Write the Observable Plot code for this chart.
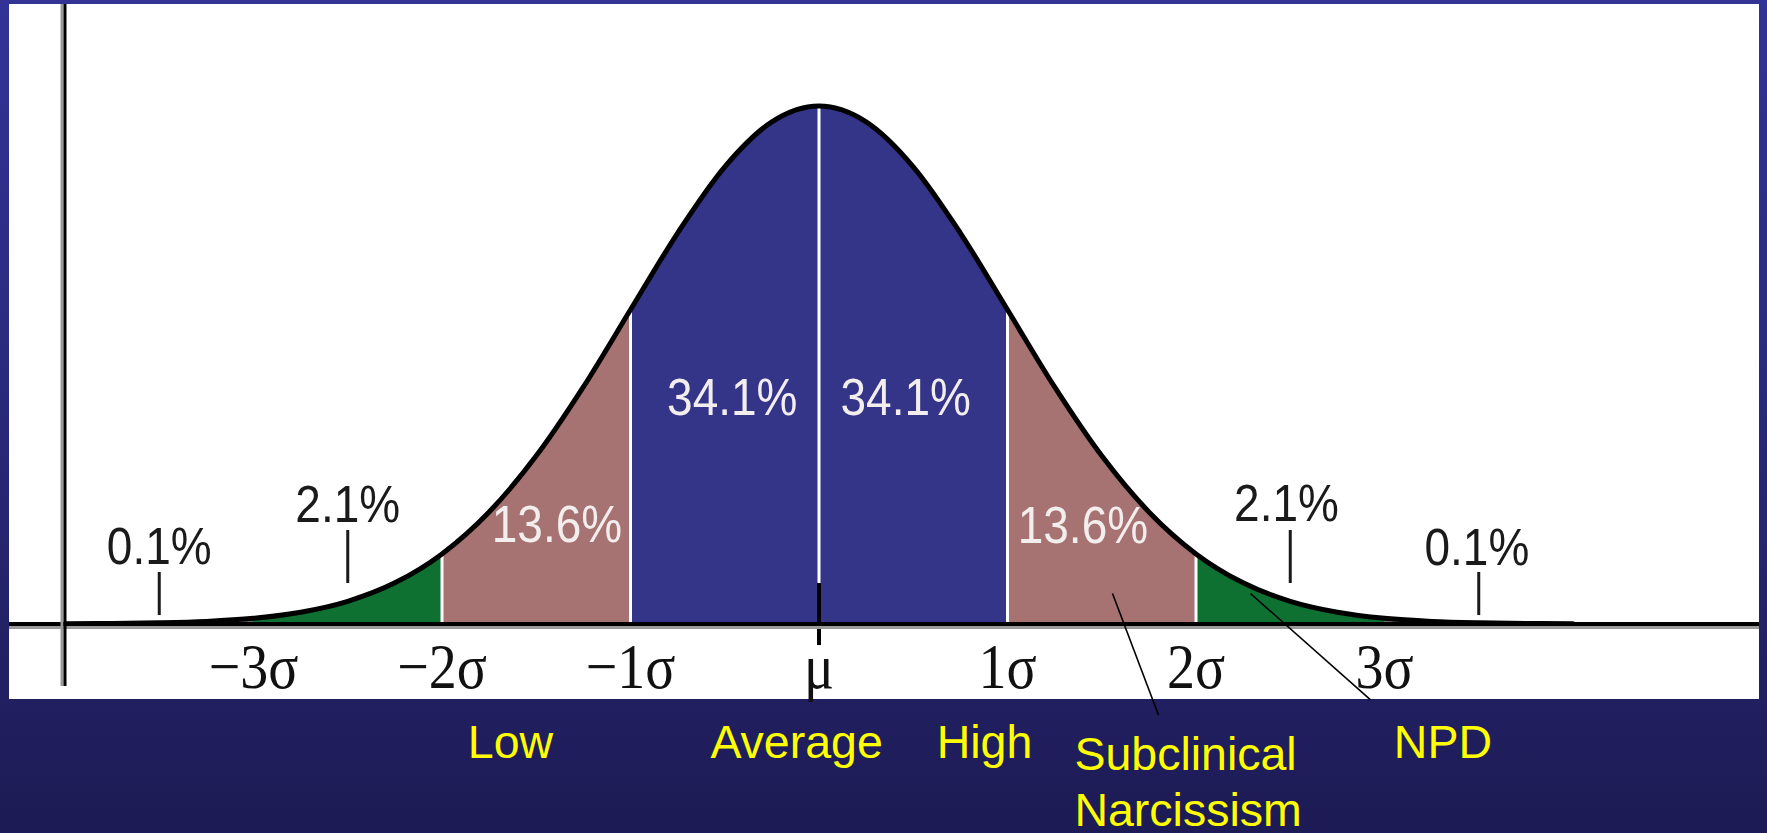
<!DOCTYPE html>
<html>
<head>
<meta charset="utf-8">
<script src="https://cdn.jsdelivr.net/npm/d3@7"></script>
<script src="https://cdn.jsdelivr.net/npm/@observablehq/plot@0.6"></script>
<style>
html, body { margin: 0; padding: 0; }
body {
  width: 1767px; height: 833px; overflow: hidden; position: relative;
  background: linear-gradient(to bottom, #323396 0%, #2b2b80 40%, #1d1b54 100%);
}
#panel { position: absolute; left: 9px; top: 4px; width: 1750px; height: 695px; background: #ffffff; }
#chart { position: absolute; left: 9px; top: 4px; }
</style>
</head>
<body>
<div id="panel"></div>
<div id="chart"></div>
<script>
// ---- Data ----
// Curve: position in standard deviations and curve height (density)
const curveZ = [-4, -3.75, -3.5, -3.25, -3, -2.75, -2.5, -2.25, -2, -1.75, -1.5, -1.25, -1, -0.75, -0.5, -0.25,
                0, 0.25, 0.5, 0.75, 1, 1.25, 1.5, 1.75, 2, 2.25, 2.5, 2.75, 3, 3.25, 3.5, 3.75, 4];
const curveDensity = [0.0001, 0.0004, 0.0009, 0.0020, 0.0044, 0.0091, 0.0175, 0.0317, 0.0540, 0.0863, 0.1295, 0.1826, 0.2420, 0.3011, 0.3521, 0.3867,
                      0.3989, 0.3867, 0.3521, 0.3011, 0.2420, 0.1826, 0.1295, 0.0863, 0.0540, 0.0317, 0.0175, 0.0091, 0.0044, 0.0020, 0.0009, 0.0004, 0.0001];

// Shaded bands between these edges
const bandEdges = [-4, -3, -2, -1, 0, 1, 2, 3, 4];
const bandKinds = ["tail", "outer", "middle", "center", "center", "middle", "outer", "tail"];
const separatorZ = [-2, -1, 0, 1, 2];

// Axis tick labels
const sigmaTicks = [-3, -2, -1, 0, 1, 2, 3];
const sigmaLabels = ["−3σ", "−2σ", "−1σ", "μ", "1σ", "2σ", "3σ"];

// Percentage labels (anchor in sigma units and density of their baseline)
const pctLabels = ["0.1%", "2.1%", "13.6%", "34.1%", "34.1%", "13.6%", "2.1%", "0.1%"];
const pctZ = [-3.5, -2.5, -1.39, -0.46, 0.46, 1.40, 2.48, 3.49];
const pctBaseline = [0.0464, 0.0782, 0.0628, 0.1610, 0.1610, 0.0620, 0.0797, 0.0451];

// Small pointer ticks under the outer percentage labels
const pctTickZ = [-3.5, -2.5, 2.5, 3.5];
const pctTickFrom = [0.0065, 0.0312, 0.0312, 0.0065];
const pctTickTo = [0.0397, 0.0720, 0.0720, 0.0397];

// Mean marker (black tick through the axis)
const meanTickFrom = -0.0166;
const meanTickTo = 0.0312;

// Category labels under the chart
const groupLabels = ["Low", "Average", "High", "NPD"];
const groupZ = [-1.637, -0.119, 0.878, 3.31];
const subclinicalLabel = "Subclinical\nNarcissism";
const subclinicalZ = 1.355;

// Leader lines (from region to label)
const leaderZ1 = [1.557, 2.289];
const leaderD1 = [0.0235, 0.0235];
const leaderZ2 = [1.801, 2.926];
const leaderD2 = [-0.0701, -0.0585];

// ---- Tables built from the arrays ----
const curveRows = curveZ.map((z, i) => ({z, d: curveDensity[i]}));
const bandRows = [];
for (let b = 0; b < bandKinds.length; b++) {
  const lo = bandEdges[b], hi = bandEdges[b + 1];
  curveRows.filter(r => r.z >= lo - 1e-9 && r.z <= hi + 1e-9)
    .forEach(r => bandRows.push({band: b, kind: bandKinds[b], z: r.z, d: r.d}));
}
const densityAt = z => curveDensity[curveZ.findIndex(v => Math.abs(v - z) < 1e-9)];
const separatorRows = separatorZ.map(z => ({z, top: densityAt(z)}));
const sigmaRows = sigmaTicks.map((z, i) => ({z, label: sigmaLabels[i], base: 0}));
const pctRows = pctLabels.map((label, i) => ({label, z: pctZ[i], d: pctBaseline[i]}));
const pctInner = pctRows.filter(r => Math.abs(r.z) < 2);
const pctOuter = pctRows.filter(r => Math.abs(r.z) >= 2);
const pctTickRows = pctTickZ.map((z, i) => ({z, y1: pctTickFrom[i], y2: pctTickTo[i]}));
const groupRows = groupLabels.map((label, i) => ({label, z: groupZ[i], base: 0}));
const leaderRows = leaderZ1.map((z1, i) => ({x1: z1, y1: leaderD1[i], x2: leaderZ2[i], y2: leaderD2[i]}));

const sans = "'Liberation Sans', Arial, Helvetica, sans-serif";
const serif = "'Liberation Serif', 'Times New Roman', Times, serif";

const chart = Plot.plot({
  width: 1750,
  height: 829,
  marginTop: 0, marginLeft: 0, marginRight: 0, marginBottom: 147,
  style: {background: "transparent", overflow: "visible", maxWidth: "none"},
  x: {domain: [-4, 4], range: [55.5, 1563.5], axis: null},
  y: {domain: [0, 0.39894], range: [619.5, 101.5], axis: null},
  color: {domain: ["tail", "outer", "middle", "center"], range: ["#6e6e6e", "#0e7131", "#a67372", "#343489"]},
  marks: [
    Plot.areaY(bandRows, {x: "z", y1: 0, y2: "d", z: "band", fill: "kind", curve: "monotone-x"}),
    Plot.ruleX(separatorRows, {x: "z", y1: 0, y2: "top", stroke: "white", strokeWidth: 3}),
    Plot.ruleX([0], {y1: meanTickFrom, y2: meanTickTo, stroke: "black", strokeWidth: 4}),
    Plot.line(curveRows, {x: "z", y: "d", curve: "monotone-x", stroke: "black", strokeWidth: 5, strokeLinejoin: "round"}),
    Plot.ruleY([0], {stroke: "#9a9a9a", strokeWidth: 3, dy: 3.5}),
    Plot.ruleY([0], {stroke: "black", strokeWidth: 4}),
    Plot.ruleX([-4], {stroke: "#9a9a9a", strokeWidth: 3, dx: -3}),
    Plot.ruleX([-4], {stroke: "black", strokeWidth: 3}),
    Plot.ruleX(pctTickRows, {x: "z", y1: "y1", y2: "y2", stroke: "#1a1a1a", strokeWidth: 3}),
    Plot.text(pctOuter, {x: "z", y: "d", text: "label", lineAnchor: "bottom", fontFamily: sans, fontSize: 46, fill: "#1a1a1a"}),
    Plot.text(pctInner, {x: "z", y: "d", text: "label", lineAnchor: "bottom", fontFamily: sans, fontSize: 46, fill: "#f3eeee"}),
    Plot.text(sigmaRows, {x: "z", y: "base", text: "label", lineAnchor: "bottom", dy: 63.5, fontFamily: serif, fontSize: 56, fill: "#111111"}),
    Plot.link(leaderRows, {x1: "x1", y1: "y1", x2: "x2", y2: "y2", stroke: "black", strokeWidth: 1.6}),
    Plot.text(groupRows, {x: "z", y: "base", text: "label", lineAnchor: "bottom", dy: 133.5, fontFamily: sans, fontSize: 46.5, fill: "yellow"}),
    Plot.text([subclinicalLabel], {x: () => subclinicalZ, y: () => 0, text: d => d, textAnchor: "start", lineAnchor: "bottom", lineHeight: 1.2, dy: 202, fontFamily: sans, fontSize: 46.5, fill: "yellow"})
  ]
});

// The reference image is slightly stretched vertically: stretch the chart's own labels about their baseline.
chart.querySelectorAll("text").forEach(t => {
  const g = t.parentNode;
  if (g && g.getAttribute && g.getAttribute("fill") === "yellow") return;
  const tr = t.getAttribute("transform");
  if (tr) {
    t.setAttribute("transform", tr + " scale(1,1.14)");
  } else {
    const x = t.getAttribute("x") || 0, y = t.getAttribute("y") || 0;
    if (!String(x).includes("em") && !String(y).includes("em")) {
      t.removeAttribute("x"); t.removeAttribute("y");
      t.setAttribute("transform", `translate(${x},${y}) scale(1,1.14)`);
    }
  }
});

document.getElementById("chart").appendChild(chart);
</script>
</body>
</html>
